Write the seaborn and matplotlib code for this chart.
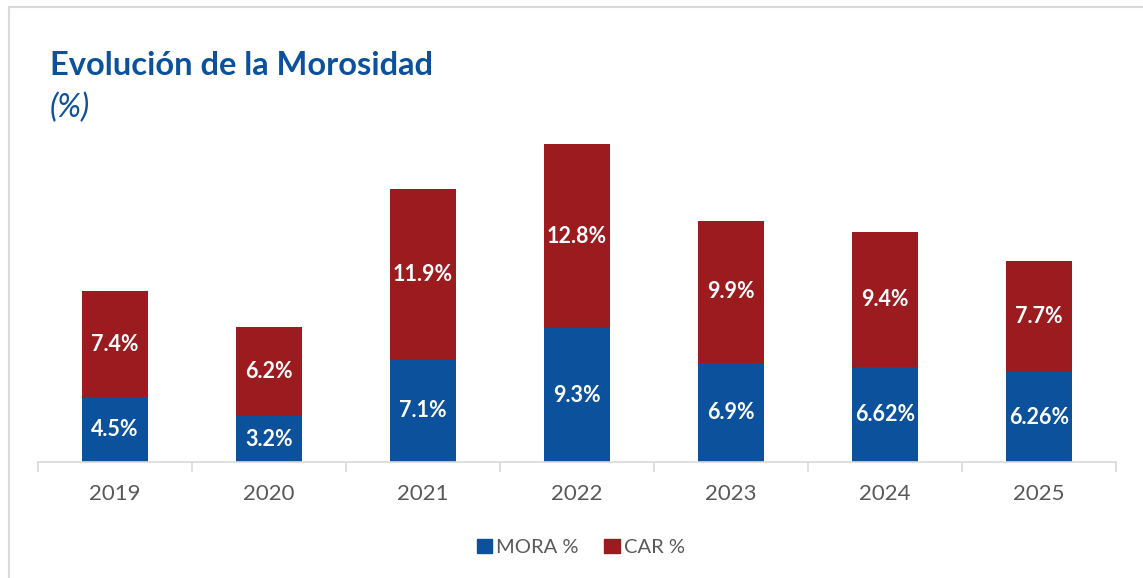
import matplotlib
matplotlib.use("Agg")
import matplotlib.pyplot as plt
import matplotlib.patches as mpatches
import seaborn as sns
import pandas as pd

# datos
years = ["2019", "2020", "2021", "2022", "2023", "2024", "2025"]
mora = [4.5, 3.2, 7.1, 9.3, 6.9, 6.62, 6.26]
car = [7.4, 6.2, 11.9, 12.8, 9.9, 9.4, 7.7]
mora_labels = ["4.5%", "3.2%", "7.1%", "9.3%", "6.9%", "6.62%", "6.26%"]
car_labels = ["7.4%", "6.2%", "11.9%", "12.8%", "9.9%", "9.4%", "7.7%"]

BLUE = "#0B519C"
RED = "#9B1B1F"
TITLE = "#0B519C"
GREY = "#595959"

sns.set_theme(style="white")
plt.rcParams["font.family"] = ["Lato", "DejaVu Sans"]

df = pd.DataFrame({"year": years, "mora": mora, "car": car})
df["total"] = df["mora"] + df["car"]

fig = plt.figure(figsize=(11.43, 5.78), dpi=100)
ax = fig.add_axes([0.0332, 0.2007, 0.9432, 0.5917])

# total primero (rojo), luego mora encima (azul) -> barras apiladas
sns.barplot(data=df, x="year", y="total", color=RED, width=0.43, saturation=1,
            linewidth=0, ax=ax)
sns.barplot(data=df, x="year", y="mora", color=BLUE, width=0.43, saturation=1,
            linewidth=0, ax=ax)

for i in range(len(years)):
    ax.text(i, mora[i] / 2, mora_labels[i], ha="center", va="center",
            color="white", fontsize=15.5, fontweight="bold")
    ax.text(i, mora[i] + car[i] / 2, car_labels[i], ha="center", va="center",
            color="white", fontsize=15.5, fontweight="bold")

ax.set_xlim(-0.5, len(years) - 0.5)
ax.set_ylim(0, 23.8)
ax.set_xlabel("")
ax.set_ylabel("")
ax.set_yticks([])
for s in ["top", "right", "left"]:
    ax.spines[s].set_visible(False)
ax.spines["bottom"].set_color("#D9D9D9")
ax.spines["bottom"].set_linewidth(1.2)
ax.tick_params(axis="x", which="major", length=0, labelsize=16, labelcolor=GREY, pad=16)
ax.set_xticks([i - 0.5 for i in range(len(years) + 1)], minor=True)
ax.tick_params(axis="x", which="minor", length=7, width=1.2, color="#D9D9D9", bottom=True)

fig.text(50 / 1143, 1 - 75 / 578, "Evolución de la Morosidad", color=TITLE,
         fontsize=23.5, fontweight="bold", va="baseline", ha="left")
fig.text(50 / 1143, 1 - 117 / 578, "(%)", color=TITLE, fontsize=23,
         fontstyle="italic", va="baseline", ha="left")

handles = [mpatches.Patch(color=BLUE, label="MORA %"),
           mpatches.Patch(color=RED, label="CAR %")]
leg = fig.legend(handles=handles, loc="center", bbox_to_anchor=(0.508, 0.053), ncol=2,
                 frameon=False, handlelength=0.75, handleheight=0.75, handletextpad=0.2,
                 columnspacing=1.3, fontsize=14.5)
for t in leg.get_texts():
    t.set_color(GREY)

fig.patches.append(mpatches.Rectangle((9 / 1143, -0.01), 1.0, 1 - 7 / 578 + 0.01,
                                      transform=fig.transFigure, fill=False,
                                      edgecolor="#D9D9D9", linewidth=1.5))

fig.savefig("out.png", dpi=100)
